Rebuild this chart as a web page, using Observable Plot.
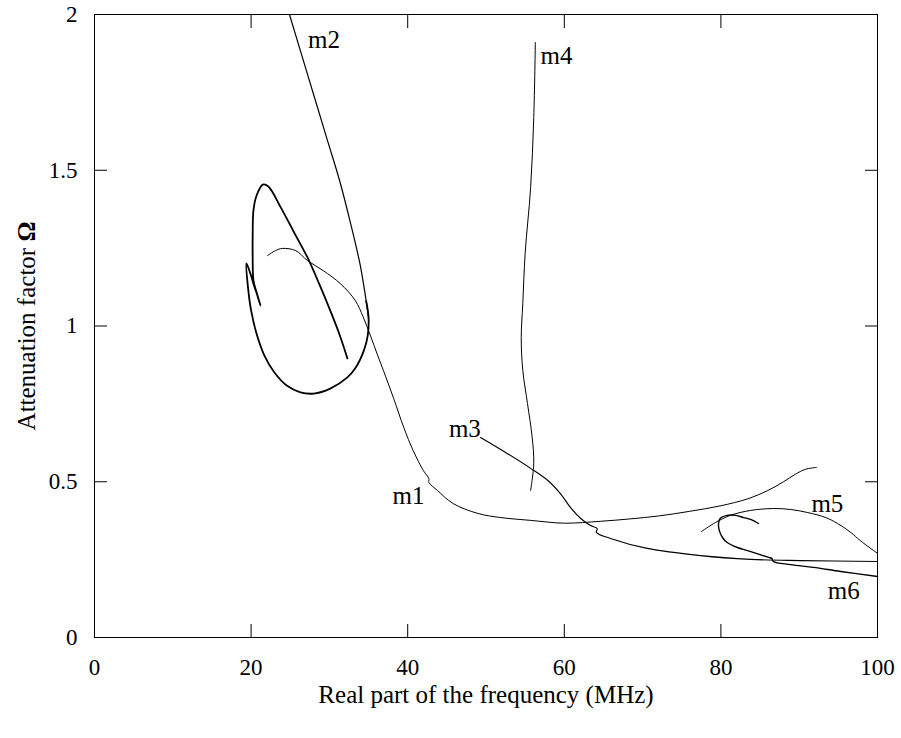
<!DOCTYPE html>
<html><head><meta charset="utf-8">
<script src="https://cdn.jsdelivr.net/npm/d3@7"></script>
<script src="https://cdn.jsdelivr.net/npm/@observablehq/plot@0.6"></script>
<style>
body{margin:0;background:#fff;}
#chart svg{font-family:"Liberation Serif","Times New Roman",serif;}
</style></head><body><div id="chart"></div>
<script>
// Tick values
const xTicks = [0, 20, 40, 60, 80, 100];
const yTicks = [0, 0.5, 1, 1.5, 2];

// Mode m1
const m1X = [22.1, 23.1, 24.0, 25.7, 27.2, 29.2, 31.4, 33.3, 34.3, 35.3, 36.1, 36.9, 38.2, 39.5, 40.7, 42.0, 42.7, 42.7, 43.8, 45.8, 49.0, 51.9, 55.7, 60.0, 64.6, 68.5, 72.0, 76.0, 80.0, 83.4, 86.0, 88.0, 89.5, 90.8, 92.2];
const m1Y = [1.226, 1.242, 1.249, 1.242, 1.210, 1.178, 1.136, 1.082, 1.030, 0.965, 0.910, 0.857, 0.768, 0.674, 0.600, 0.536, 0.510, 0.498, 0.472, 0.430, 0.398, 0.385, 0.376, 0.367, 0.373, 0.381, 0.390, 0.405, 0.423, 0.445, 0.472, 0.500, 0.524, 0.540, 0.546];

// Mode m2 (upper, thinner branch and the loop)
const m2aX = [24.9, 27.3, 29.7, 31.3, 32.6, 33.9, 34.7, 35.0];
const m2aY = [2.0, 1.8, 1.6, 1.467, 1.34, 1.2, 1.08, 1.027];
const m2bX = [34.7, 35.0, 34.9, 34.4, 33.3, 32.3, 30.1, 28.0, 26.3, 24.6, 23.0, 21.7, 20.7, 20.0, 19.6, 19.4, 19.9, 20.3, 20.8, 21.2, 20.7, 20.3, 20.2, 20.2, 20.3, 20.7, 21.5, 22.2, 23.8, 25.5, 27.2, 28.7, 30.1, 31.3, 32.3];
const m2bY = [1.08, 1.027, 0.970, 0.921, 0.864, 0.835, 0.799, 0.783, 0.787, 0.808, 0.850, 0.905, 0.975, 1.050, 1.125, 1.201, 1.169, 1.136, 1.098, 1.066, 1.108, 1.146, 1.226, 1.284, 1.371, 1.419, 1.454, 1.448, 1.380, 1.300, 1.220, 1.135, 1.050, 0.972, 0.896];

// Mode m3
const m3X = [49.3, 52.7, 55.7, 57.9, 59.5, 60.8, 62.1, 63.3, 64.2, 64.1, 65.9, 70.6, 77.4, 83.8, 90.2, 100];
const m3Y = [0.642, 0.591, 0.543, 0.504, 0.462, 0.417, 0.382, 0.360, 0.350, 0.337, 0.318, 0.286, 0.263, 0.251, 0.247, 0.244];

// Mode m4
const m4X = [56.3, 56.1, 55.7, 55.0, 54.7, 54.5, 54.7, 55.3, 55.9, 56.1, 55.7];
const m4Y = [1.910, 1.669, 1.445, 1.233, 1.072, 0.963, 0.857, 0.751, 0.642, 0.559, 0.472];

// Mode m5
const m5X = [77.5, 79.3, 81.2, 83.8, 86.7, 88.9, 91.1, 93.4, 94.9, 96.6, 97.8, 100];
const m5Y = [0.340, 0.369, 0.392, 0.408, 0.414, 0.411, 0.401, 0.385, 0.366, 0.337, 0.311, 0.270];

// Mode m6
const m6X = [84.8, 83.8, 82.9, 81.9, 80.8, 79.9, 79.7, 79.8, 80.2, 80.8, 82.1, 83.4, 86.1, 86.5, 86.7, 88.9, 91.8, 95.3, 100];
const m6Y = [0.366, 0.379, 0.385, 0.392, 0.392, 0.382, 0.366, 0.343, 0.321, 0.305, 0.289, 0.279, 0.257, 0.254, 0.244, 0.234, 0.225, 0.212, 0.196];

// Curve labels
const labelText = ["m1", "m2", "m3", "m4", "m5", "m6"];
const labelX = [40.1, 29.3, 47.3, 59.0, 93.6, 95.7];
const labelY = [0.453, 1.917, 0.668, 1.868, 0.430, 0.148];

const xTitle = "Real part of the frequency (MHz)";
const yTitle = "Attenuation factor Ω";

function pts(xs, ys) { return xs.map((x, i) => ({x, y: ys[i]})); }
const labels = labelText.map((t, i) => ({t, x: labelX[i], y: labelY[i]}));

const series = [
  {d: pts(m1X, m1Y), w: 1.0},
  {d: pts(m2aX, m2aY), w: 1.2},
  {d: pts(m2bX, m2bY), w: 1.8},
  {d: pts(m3X, m3Y), w: 1.15},
  {d: pts(m4X, m4Y), w: 1.0},
  {d: pts(m5X, m5Y), w: 1.0},
  {d: pts(m6X, m6Y), w: 1.4}
];

const font = "Liberation Serif, Times New Roman, serif";

const chart = Plot.plot({
  width: 901, height: 738,
  marginLeft: 94, marginRight: 24, marginTop: 14, marginBottom: 101,
  style: {fontFamily: font, fontSize: "23px", background: "white", color: "black", overflow: "visible"},
  x: {domain: [0, 100]},
  y: {domain: [0, 2]},
  marks: [
    Plot.axisX(xTicks, {anchor: "bottom", tickSize: -13, tickPadding: 34, label: null, fontSize: 23, tickFormat: d => String(d)}),
    Plot.axisX(xTicks.slice(1, -1), {anchor: "top", tickSize: -13, label: null, tickFormat: () => ""}),
    Plot.axisY(yTicks, {anchor: "left", tickSize: -13, tickPadding: 30, label: null, fontSize: 23, tickFormat: d => String(d)}),
    Plot.axisY(yTicks.slice(1, -1), {anchor: "right", tickSize: -13, label: null, tickFormat: () => ""}),
    ...series.map(s => Plot.line(s.d, {x: "x", y: "y", stroke: "black", strokeWidth: s.w, curve: "catmull-rom"})),
    Plot.text(labels, {x: "x", y: "y", text: "t", fontSize: 25, fill: "black"}),
    Plot.text([xTitle], {frameAnchor: "bottom", lineAnchor: "middle", textAnchor: "middle", dy: 57, fontSize: 25, fill: "black"}),
    Plot.text([yTitle], {frameAnchor: "left", lineAnchor: "middle", textAnchor: "middle", rotate: -90, dx: -68, fontSize: 25, fill: "black"}),
    Plot.frame({stroke: "black", strokeWidth: 1})
  ]
});

// make the Omega bold
d3.select(chart).selectAll("text").each(function() {
  const t = this.textContent;
  if (t === yTitle) {
    const sel = d3.select(this);
    sel.text(null);
    sel.append("tspan").text("Attenuation factor ");
    sel.append("tspan").attr("font-weight", "bold").text("Ω");
  }
});

document.getElementById("chart").appendChild(chart);
</script></body></html>
